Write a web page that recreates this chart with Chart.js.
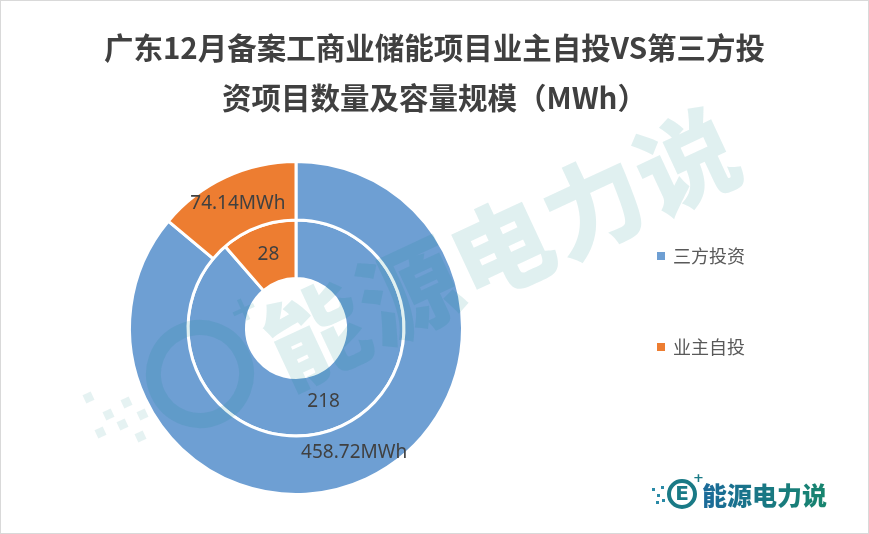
<!DOCTYPE html>
<html><head><meta charset="utf-8">
<script src="https://cdn.jsdelivr.net/npm/chart.js@4/dist/chart.umd.min.js"></script>
<style>
html,body{margin:0;padding:0;background:#fff;}
#wrap{position:relative;width:869px;height:534px;overflow:hidden;background:#fff;}
#frame{position:absolute;left:0;top:0;width:869px;height:534px;box-sizing:border-box;border:1px solid #d9d9d9;pointer-events:none;}
canvas{position:absolute;left:0;top:0;}
.title{position:absolute;left:0;width:869px;text-align:center;font-family:"Noto Sans CJK SC","Noto Sans",sans-serif;font-weight:bold;font-size:29.5px;color:#404040;line-height:30px;white-space:nowrap;}
#wm{position:absolute;left:0;top:0;width:869px;height:534px;pointer-events:none;}
#wmtext{position:absolute;left:500px;top:243px;transform:translate(-50%,-50%) rotate(-25deg);font-family:"Noto Sans CJK SC",sans-serif;font-weight:900;font-size:100px;letter-spacing:2px;color:rgba(0,128,128,0.12);white-space:nowrap;line-height:1;}
#wmring{position:absolute;left:146px;top:320px;width:78px;height:78px;border:15px solid rgba(0,128,128,0.12);border-radius:50%;transform:rotate(-25deg);}
#wmplus{position:absolute;left:228px;top:288px;font:bold 36px "DejaVu Sans",sans-serif;color:rgba(0,128,128,0.12);transform:rotate(-25deg);}
.wmdot{position:absolute;width:9px;height:9px;background:rgba(0,128,128,0.10);transform:rotate(-25deg);}
#logotext{position:absolute;left:702px;top:479px;font-family:"Noto Sans CJK SC",sans-serif;font-weight:900;font-size:25px;line-height:30px;background:linear-gradient(90deg,#1b6a9a,#17856d);-webkit-background-clip:text;background-clip:text;color:transparent;white-space:nowrap;}
#logoring{position:absolute;left:667px;top:479px;width:22px;height:22px;border:4px solid #1a7a86;border-radius:50%;}
#logoE{position:absolute;left:670px;top:478px;width:24px;text-align:center;font:bold 20px/30px "DejaVu Sans",sans-serif;color:#1a7a86;}
#logoplus{position:absolute;left:693px;top:470px;font:bold 13px "DejaVu Sans",sans-serif;color:#1a7a86;}
.ldot{position:absolute;width:3px;height:3px;background:#2a8aa6;}
</style>
</head>
<body>
<div id="wrap">
  <canvas id="c" width="869" height="534"></canvas>
  <div class="title" style="top:31px;">广东12月备案工商业储能项目业主自投VS第三方投</div>
  <div class="title" style="top:81px;">资项目数量及容量规模（MWh）</div>
  <div id="wm">
    <div id="wmring"></div>
    <div id="wmplus">+</div>
    <div class="wmdot" style="left:84px;top:393px"></div>
    <div class="wmdot" style="left:104px;top:410px"></div>
    <div class="wmdot" style="left:96px;top:428px"></div>
    <div class="wmdot" style="left:122px;top:398px"></div>
    <div class="wmdot" style="left:118px;top:420px"></div>
    <div class="wmdot" style="left:138px;top:410px"></div>
    <div class="wmdot" style="left:136px;top:432px"></div>
    <div id="wmtext">能源电力说</div>
  </div>
  <div id="logoring"></div>
  <div id="logoE">E</div>
  <div id="logoplus">+</div>
  <div class="ldot" style="left:652px;top:488px"></div>
  <div class="ldot" style="left:657px;top:494px"></div>
  <div class="ldot" style="left:661px;top:486px"></div>
  <div class="ldot" style="left:662px;top:499px"></div>
  <div class="ldot" style="left:656px;top:501px"></div>
  <div id="logotext">能源电力说</div>
  <div id="frame"></div>
</div>
<script>
const categories = ['三方投资', '业主自投'];
const capacityMWh = [458.72, 74.14];
const projectCount = [218, 28];
const unitSuffix = 'MWh';

const palette = ['#6e9fd3', '#ed7d31'];

const arcLabels = {
  id: 'arcLabels',
  afterDatasetsDraw(chart) {
    const ctx = chart.ctx;
    chart.data.datasets.forEach((ds, i) => {
      const meta = chart.getDatasetMeta(i);
      meta.data.forEach((arc, j) => {
        const p = arc.tooltipPosition();
        const v = ds.data[j];
        const txt = ds.suffix ? v.toFixed(2) + ds.suffix : String(v);
        ctx.save();
        ctx.font = '19px "Noto Sans", sans-serif';
        ctx.fillStyle = '#404040';
        ctx.textAlign = 'center';
        ctx.textBaseline = 'middle';
        ctx.fillText(txt, p.x, p.y);
        ctx.restore();
      });
    });
  },
  afterDraw(chart) {
    const ctx = chart.ctx;
    const ys = [256, 347];
    chart.data.labels.forEach((lab, i) => {
      ctx.save();
      ctx.fillStyle = palette[i];
      ctx.fillRect(657, ys[i] - 4, 8, 8);
      ctx.font = '18px "Noto Sans CJK SC", sans-serif';
      ctx.fillStyle = '#595959';
      ctx.textAlign = 'left';
      ctx.textBaseline = 'middle';
      ctx.fillText(lab, 673, ys[i]);
      ctx.restore();
    });
  }
};

new Chart(document.getElementById('c'), {
  type: 'doughnut',
  data: {
    labels: categories,
    datasets: [
      { label: '容量', data: capacityMWh, suffix: unitSuffix, backgroundColor: palette, borderColor: '#ffffff', borderWidth: 3 },
      { label: '数量', data: projectCount, backgroundColor: palette, borderColor: '#ffffff', borderWidth: 3 }
    ]
  },
  options: {
    responsive: false,
    devicePixelRatio: 1,
    animation: false,
    cutout: 49.5,
    layout: { padding: { left: 128, top: 160, right: 405, bottom: 38 } },
    plugins: {
      legend: { display: false },
      tooltip: { enabled: false },
      title: { display: false }
    }
  },
  plugins: [arcLabels]
});
</script>
</body></html>
